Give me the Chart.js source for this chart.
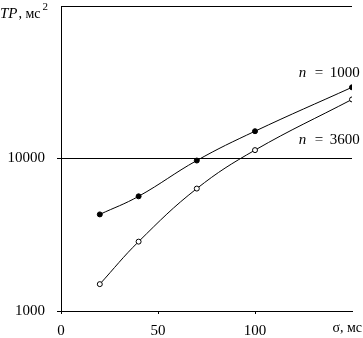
<!DOCTYPE html>
<html>
<head>
<meta charset="utf-8">
<script src="https://cdn.jsdelivr.net/npm/chart.js@4/dist/chart.umd.min.js"></script>
<style>
  html, body { margin: 0; padding: 0; background: #fff; }
  #wrap { width: 363px; height: 338px; }
</style>
</head>
<body>
<div id="wrap"><canvas id="tp-chart" width="363" height="338"></canvas></div>
<script>
// данные
const sigma = [20, 40, 70, 100, 150];
const tp1000 = [4300, 5650, 9700, 15100, 29300];
const tp3600 = [1500, 2850, 6350, 11350, 24400];
const yTicks = [1000, 10000, 100000];
const yLabels = ['1000', '10000', ''];
const xLabels = ['0', '50', '100', ''];

const serif = '"Liberation Serif", "DejaVu Serif", serif';

// подписи кривых и осей
const labelsPlugin = {
    id: 'labels',
    afterDraw(chart) {
        const ctx = chart.ctx;
        const x = chart.scales.x;
        const y = chart.scales.y;
        ctx.save();
        ctx.fillStyle = '#000';
        ctx.textBaseline = 'middle';

        function curveLabel(val, yv, text) {
            const px = x.getPixelForValue(val);
            const py = y.getPixelForValue(yv);
            ctx.font = 'italic 15px ' + serif;
            ctx.textAlign = 'left';
            ctx.fillText('n', px, py);
            ctx.font = '15px ' + serif;
            ctx.fillText('=', px + 16, py);
            ctx.fillText(text, px + 31, py);
        }
        curveLabel(122.5, 36500, '1000');
        curveLabel(122.5, 13300, '3600');

        // подпись оси Y
        ctx.textAlign = 'left';
        ctx.textBaseline = 'alphabetic';
        ctx.font = 'italic 15px ' + serif;
        ctx.fillText('TP', 0, 18);
        const w = ctx.measureText('TP').width;
        ctx.font = '14px ' + serif;
        ctx.fillText(', мс', w + 1, 18);
        const w2 = ctx.measureText(', мс').width;
        ctx.font = '11px ' + serif;
        ctx.fillText('2', w + w2 + 3, 10);

        // подпись оси X
        ctx.font = '14px ' + serif;
        ctx.textAlign = 'right';
        ctx.textBaseline = 'middle';
        ctx.fillText('σ, мс', 362, 328);
        ctx.restore();
    }
};

new Chart(document.getElementById('tp-chart'), {
    type: 'line',
    data: {
        datasets: [
            {
                label: 'n = 1000',
                data: sigma.map((s, i) => ({ x: s, y: tp1000[i] })),
                borderColor: '#000',
                borderWidth: 1,
                tension: 0.4,
                pointRadius: 2.5,
                pointBackgroundColor: '#000',
                pointBorderColor: '#000',
                pointBorderWidth: 1
            },
            {
                label: 'n = 3600',
                data: sigma.map((s, i) => ({ x: s, y: tp3600[i] })),
                borderColor: '#000',
                borderWidth: 1,
                tension: 0.4,
                pointRadius: 2.5,
                pointBackgroundColor: '#fff',
                pointBorderColor: '#000',
                pointBorderWidth: 1
            }
        ]
    },
    options: {
        responsive: false,
        animation: false,
        layout: { padding: { top: 6, right: 11, left: 0, bottom: 0 } },
        plugins: {
            legend: { display: false },
            tooltip: { enabled: false }
        },
        scales: {
            x: {
                type: 'linear',
                min: 0,
                max: 150,
                afterBuildTicks: (s) => { s.ticks = [0, 50, 100, 150].map(v => ({ value: v })); },
                afterFit: (s) => { s.height = 27; s.paddingRight = 0; },
                border: { display: true, color: '#000', width: 1 },
                grid: {
                    drawOnChartArea: false,
                    tickLength: 3,
                    tickColor: (c) => c.tick && c.tick.value === 150 ? 'rgba(0,0,0,0)' : '#000'
                },
                ticks: {
                    padding: 8,
                    maxRotation: 0,
                    color: '#000',
                    font: { family: serif, size: 15 },
                    callback: (v, i) => xLabels[i]
                }
            },
            y: {
                type: 'logarithmic',
                min: 1000,
                max: 100000,
                afterBuildTicks: (s) => { s.ticks = yTicks.map(v => ({ value: v })); },
                afterFit: (s) => { s.width = 61; s.paddingTop = 0; s.paddingBottom = 0; },
                border: { display: true, color: '#000', width: 1 },
                grid: {
                    drawOnChartArea: true,
                    tickLength: 4,
                    lineWidth: 1,
                    color: (c) => c.tick && c.tick.value > 1000 ? '#000' : 'rgba(0,0,0,0)',
                    tickColor: (c) => c.tick && c.tick.value === 100000 ? 'rgba(0,0,0,0)' : '#000'
                },
                ticks: {
                    padding: 12,
                    color: '#000',
                    font: { family: serif, size: 15 },
                    callback: (v, i) => yLabels[i]
                }
            }
        }
    },
    plugins: [labelsPlugin]
});
</script>
</body>
</html>
